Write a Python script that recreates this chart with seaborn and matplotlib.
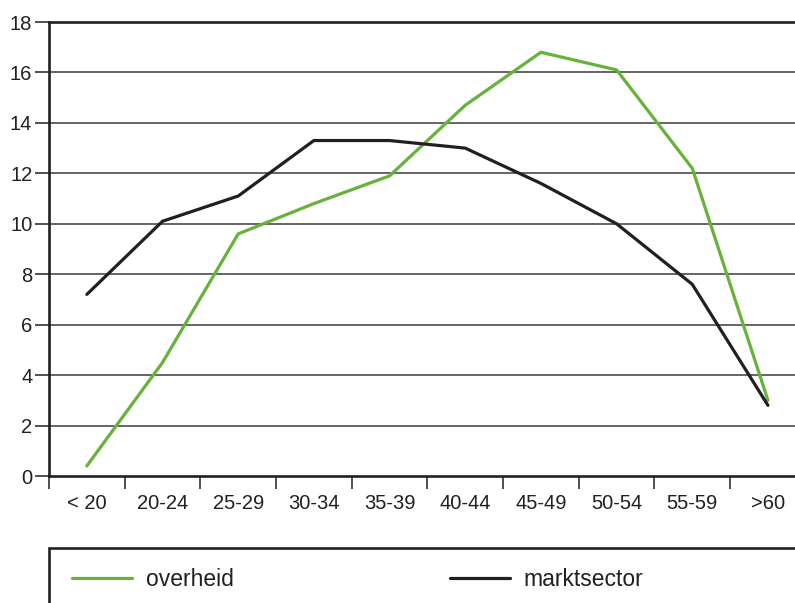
import numpy as np
import pandas as pd
import matplotlib
matplotlib.use("Agg")
import matplotlib.pyplot as plt
import seaborn as sns
from matplotlib.patches import Rectangle
from matplotlib.lines import Line2D

# Age groups and share per sector (%)
age_groups = ["< 20", "20-24", "25-29", "30-34", "35-39",
              "40-44", "45-49", "50-54", "55-59", ">60"]
overheid = [0.4, 4.5, 9.6, 10.8, 11.9, 14.7, 16.8, 16.1, 12.2, 3.0]
marktsector = [7.2, 10.1, 11.1, 13.3, 13.3, 13.0, 11.6, 10.0, 7.6, 2.8]
series_names = ["overheid", "marktsector"]
y_ticks = [0, 2, 4, 6, 8, 10, 12, 14, 16, 18]

green = "#66b23a"
dark = "#231f20"
text_color = "#231f20"

df = pd.DataFrame({
    "pos": list(range(len(age_groups))) * 2,
    "leeftijd": age_groups * 2,
    "waarde": overheid + marktsector,
    "sector": [series_names[0]] * len(age_groups) + [series_names[1]] * len(age_groups),
})

sns.set_theme(style="white")
plt.rcParams["font.family"] = ["Liberation Sans", "DejaVu Sans"]
plt.rcParams["text.color"] = text_color

fig = plt.figure(figsize=(7.95, 6.03), dpi=100)
ax = fig.add_axes([49 / 795, 127 / 603, 756.8 / 795, 454 / 603])

sns.lineplot(data=df, x="pos", y="waarde", hue="sector",
             palette={series_names[0]: green, series_names[1]: dark},
             hue_order=series_names, linewidth=2.3, sort=False,
             legend=False, ax=ax)
ax.set_xlabel("")
ax.set_ylabel("")

# horizontal grid
for t in y_ticks[1:-1]:
    ax.axhline(t, color="#444444", linewidth=1.15, zorder=0)

ax.set_xlim(-0.5, len(age_groups) - 0.5)
ax.set_ylim(0, 18)
ax.set_yticks(y_ticks)
ax.set_yticklabels([str(t) for t in y_ticks], fontsize=14.5, color=text_color)
ax.set_xticks(range(len(age_groups)))
ax.set_xticklabels(age_groups, fontsize=14.5, color=text_color)
ax.set_xticks(np.arange(-0.5, len(age_groups), 1.0), minor=True)
ax.tick_params(axis="x", which="major", length=0, pad=13)
ax.tick_params(axis="x", which="minor", length=9, width=1.1, color=dark, direction="out")
ax.tick_params(axis="y", which="major", length=10, width=1.1, color=dark, pad=2, direction="out")
ax.tick_params(left=True, bottom=True)
ax.xaxis.set_tick_params(which="minor", bottom=True)

for side in ["left", "bottom", "top"]:
    ax.spines[side].set_visible(True)
    ax.spines[side].set_color(dark)
    ax.spines[side].set_linewidth(1.9)
ax.spines["right"].set_visible(False)

# legend box along the bottom
fig.add_artist(Rectangle((49 / 795, -0.1), 1.0, 0.1 + (1 - 548 / 603),
                         transform=fig.transFigure, fill=False,
                         edgecolor=dark, linewidth=1.9, clip_on=False))

colors = [green, dark]
x_starts = [72, 450]
for name, col, xs in zip(series_names, colors, x_starts):
    handle = Line2D([], [], color=col, linewidth=2.3)
    fig.legend([handle], [name], loc="center left",
               bbox_to_anchor=(xs / 795, 1 - 580 / 603),
               bbox_transform=fig.transFigure, frameon=False,
               fontsize=16.5, handlelength=2.6, handletextpad=0.62,
               borderpad=0, borderaxespad=0)

fig.savefig("out.png", dpi=100)
